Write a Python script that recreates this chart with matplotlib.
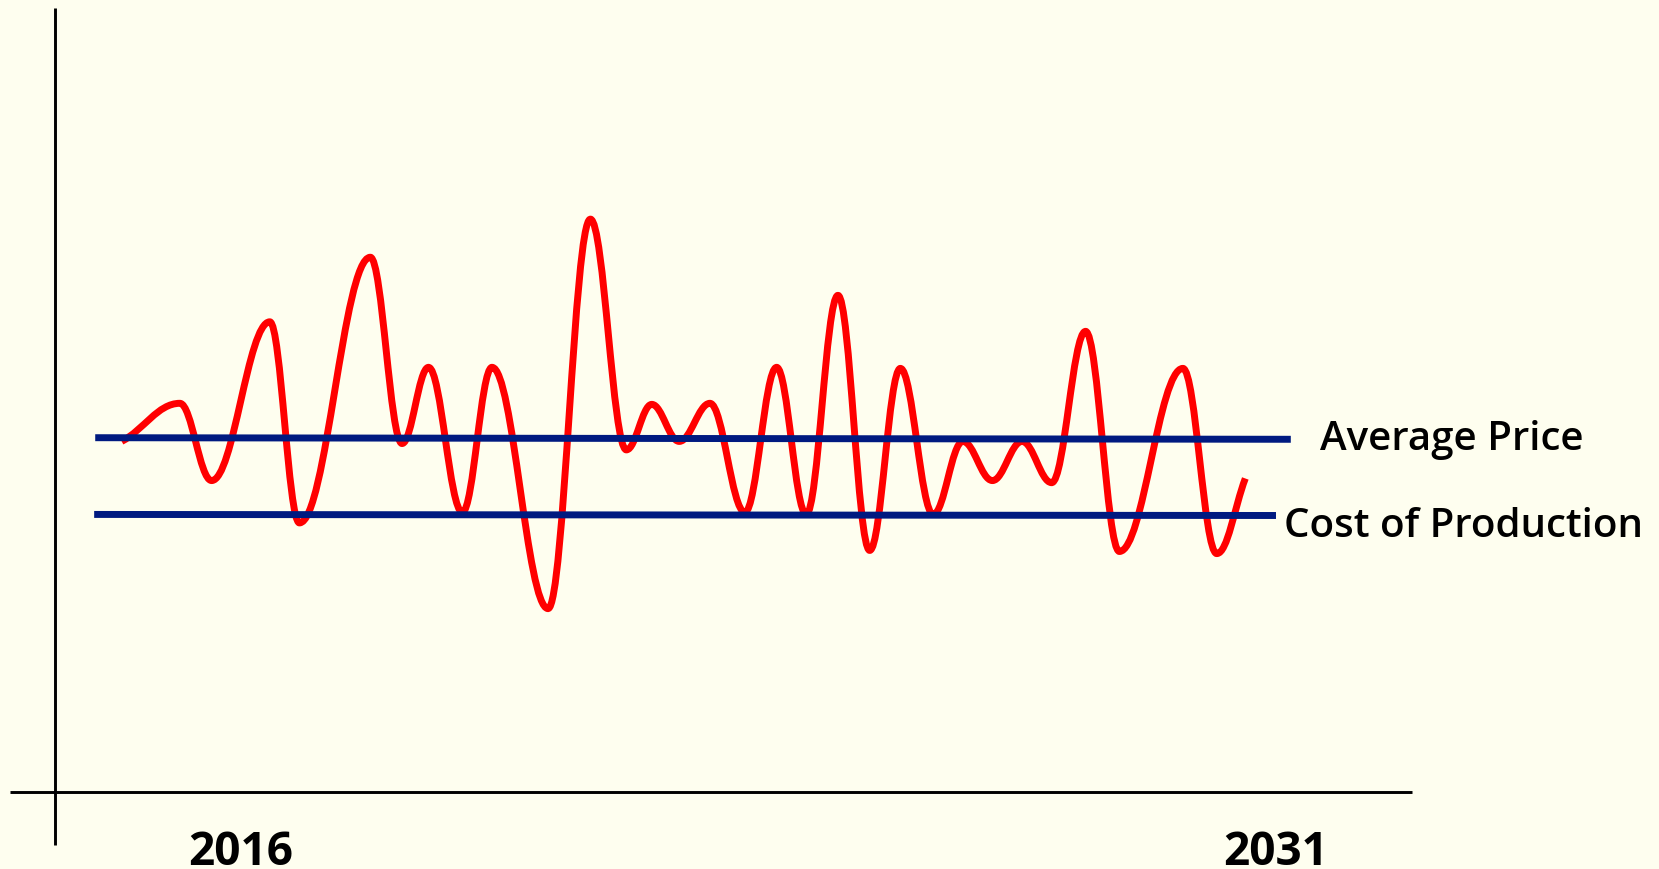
import matplotlib
matplotlib.use("Agg")
import matplotlib.pyplot as plt
from matplotlib.path import Path
from matplotlib.patches import PathPatch

# ---- data (schematic units: x across, y = price level) ----
price_x = [115, 170, 200, 255, 283, 350, 380, 405, 437, 465, 518, 558, 592, 616,
           642, 671, 704, 734, 762, 792, 822, 851, 882, 910, 938, 966, 994, 1026,
           1058, 1118, 1150, 1177]
price_y_img = [418, 382, 455, 305, 495, 244, 420, 348, 485, 348, 576, 208, 426, 383,
               418, 382, 485, 348, 487, 280, 521, 349, 487, 418, 455, 418, 457, 314,
               522, 349, 524, 453]
price_y = [822 - v for v in price_y_img]

avg_x = [90, 1220]
avg_y = [822 - 414.5, 822 - 416]
cost_x = [89, 1206]
cost_y = [822 - 487, 822 - 488]

year_labels = ["2016", "2031"]
year_x = [178, 1156]

BG = "#FEFEEF"
RED = "#FF0000"
NAVY = "#001A80"

fig = plt.figure(figsize=(16.59, 8.70), dpi=100, facecolor=BG)
ax = fig.add_axes([0, 0, 1, 1])
ax.set_facecolor(BG)
ax.set_xlim(0, 1568)
ax.set_ylim(0, 822)
ax.axis("off")

# axes lines
ax.plot([52, 52], [822 - 8.5, 822 - 799], color="black", lw=2.1, solid_capstyle="butt")
ax.plot([9.5, 1335], [822 - 749.5, 822 - 749.5], color="black", lw=2.1, solid_capstyle="butt")

# horizontal reference lines
ax.plot(avg_x, avg_y, color=NAVY, lw=5, solid_capstyle="butt")
ax.plot(cost_x, cost_y, color=NAVY, lw=5, solid_capstyle="butt")

# smooth red curve through extrema (cubic Bezier, horizontal tangents)
k = 0.38
verts = [(price_x[0], price_y[0])]
codes = [Path.MOVETO]
for i in range(len(price_x) - 1):
    x0, y0 = price_x[i], price_y[i]
    x1, y1 = price_x[i + 1], price_y[i + 1]
    dx = x1 - x0
    c0 = (x0 + k * dx, y0) if i > 0 else (x0 + k * dx, y0 + (y1 - y0) * k * 0.8)
    c1 = (x1 - k * dx, y1) if i < len(price_x) - 2 else (x1 - k * dx, y1 - (y1 - y0) * k)
    verts += [c0, c1, (x1, y1)]
    codes += [Path.CURVE4] * 3
ax.add_patch(PathPatch(Path(verts, codes), facecolor="none", edgecolor=RED,
                       lw=5, capstyle="butt", joinstyle="round"))

fam = ["Open Sans", "DejaVu Sans"]
ax.text(1248, 822 - 425, "Average Price", fontsize=29, fontweight="semibold",
        family=fam, ha="left", va="baseline", color="black")
ax.text(1214, 822 - 507.5, "Cost of Production", fontsize=29, fontweight="semibold",
        family=fam, ha="left", va="baseline", color="black")
for lbl, xx in zip(year_labels, year_x):
    ax.text(xx, 822 - 817, lbl, fontsize=33, fontweight="bold", family=fam,
            ha="left", va="baseline", color="black")

fig.savefig("out.png", dpi=100, facecolor=BG)
